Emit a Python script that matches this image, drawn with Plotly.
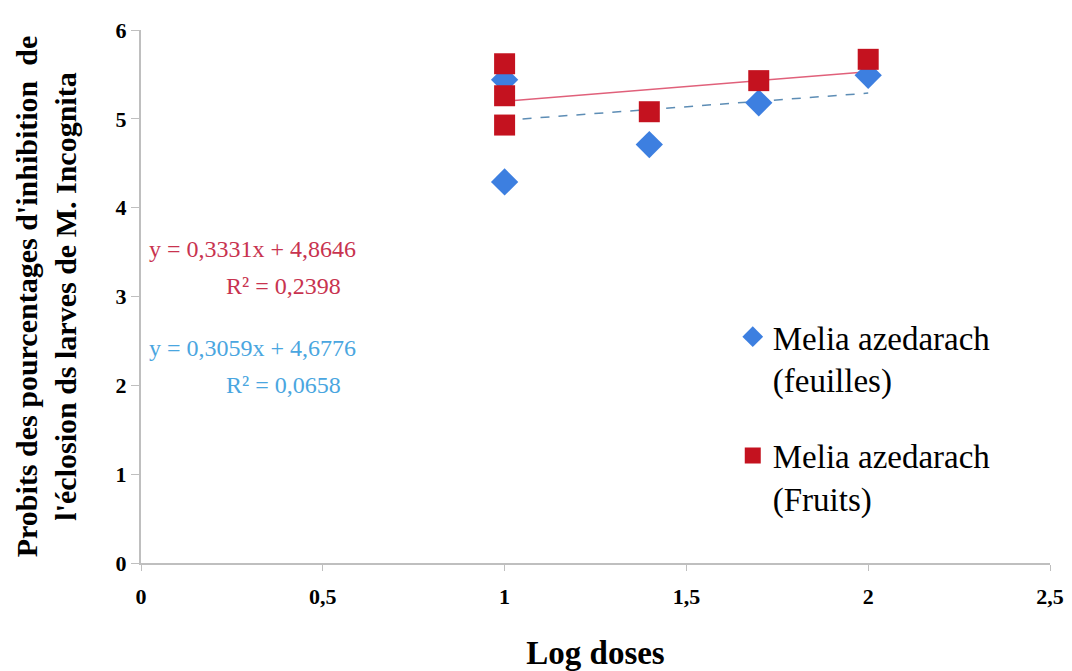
import plotly.graph_objects as go

# Log doses and probit values
x_feuilles = [1, 1, 1.398, 1.699, 2]
y_feuilles = [4.29, 5.44, 4.71, 5.18, 5.49]

x_fruits = [1, 1, 1, 1.398, 1.699, 2]
y_fruits = [5.62, 5.26, 4.93, 5.08, 5.43, 5.67]

# Linear trendlines (slope, intercept) and R²
fit_feuilles = (0.3059, 4.6776, 0.0658)
fit_fruits = (0.3331, 4.8646, 0.2398)
trend_x = [1, 2]

x_ticks = [0, 0.5, 1, 1.5, 2, 2.5]
y_ticks = [0, 1, 2, 3, 4, 5, 6]

SERIF = "Times New Roman, Liberation Serif, serif"
BLUE = "#3d7fe0"
RED = "#c4121f"

fig = go.Figure()

fig.add_trace(go.Scatter(
    x=trend_x, y=[fit_feuilles[0] * v + fit_feuilles[1] for v in trend_x],
    mode="lines", line=dict(color="#5d8db5", width=1.5, dash="dash"),
    showlegend=False, hoverinfo="skip"))
fig.add_trace(go.Scatter(
    x=trend_x, y=[fit_fruits[0] * v + fit_fruits[1] for v in trend_x],
    mode="lines", line=dict(color="#e0607a", width=1.5),
    showlegend=False, hoverinfo="skip"))

fig.add_trace(go.Scatter(
    x=x_feuilles, y=y_feuilles, mode="markers", legendgroup="f",
    name="Melia azedarach<br>(feuilles)",
    marker=dict(symbol="diamond", size=21, color=BLUE)))
fig.add_trace(go.Scatter(
    x=x_fruits, y=y_fruits, mode="markers", legendgroup="r",
    name="Melia azedarach<br>(Fruits)",
    marker=dict(symbol="square", size=21, color=RED)))


def fmt(v):
    return f"{v:.4f}".replace(".", ",")


# Trendline equations, one annotation per line
eq_lines = [
    (f"y = {fmt(fit_fruits[0])}x + {fmt(fit_fruits[1])}", 0.306, 3.54, "#c8334f"),
    (f"R² = {fmt(fit_fruits[2])}", 0.392, 3.12, "#c8334f"),
    (f"y = {fmt(fit_feuilles[0])}x + {fmt(fit_feuilles[1])}", 0.306, 2.42, "#4aa6e0"),
    (f"R² = {fmt(fit_feuilles[2])}", 0.392, 2.0, "#4aa6e0"),
]
for txt, ax, ay, col in eq_lines:
    fig.add_annotation(x=ax, y=ay, xref="x", yref="y", text=txt,
                       showarrow=False, xanchor="center",
                       font=dict(family=SERIF, size=24, color=col))

fig.update_layout(
    width=1072, height=671,
    margin=dict(l=141, r=22, t=30, b=108),
    paper_bgcolor="white", plot_bgcolor="white",
    separators=", ",
    font=dict(family=SERIF, color="black"),
    legend=dict(x=0.651, y=0.477, xanchor="left", yanchor="top",
                font=dict(family=SERIF, size=33, color="black"),
                tracegroupgap=30, valign="top",
                bgcolor="rgba(0,0,0,0)"),
    xaxis=dict(
        range=[0, 2.5], tickvals=x_ticks, ticktext=[str(v).replace(".", ",") for v in x_ticks],
        showgrid=False, zeroline=False, showline=True, linecolor="#bfbfbf", linewidth=2,
        ticks="outside", ticklen=6, tickcolor="#bfbfbf", ticklabelstandoff=7,
        automargin=False,
        tickfont=dict(family=SERIF, size=22, color="black", weight="bold"),
        title=dict(text="<b>Log doses</b>", font=dict(family=SERIF, size=33), standoff=34)),
    yaxis=dict(
        range=[0, 6], tickvals=y_ticks,
        showgrid=False, zeroline=False, showline=True, linecolor="#bfbfbf", linewidth=2,
        ticks="outside", ticklen=8, tickcolor="#bfbfbf",
        automargin=False,
        tickfont=dict(family=SERIF, size=22, color="black", weight="bold"),
        title=dict(text="<b>Probits des pourcentages d'inhibition  de<br>l'éclosion ds larves de M. Incognita</b>",
                   font=dict(family=SERIF, size=30), standoff=30)),
)

fig.write_html("out.html")
